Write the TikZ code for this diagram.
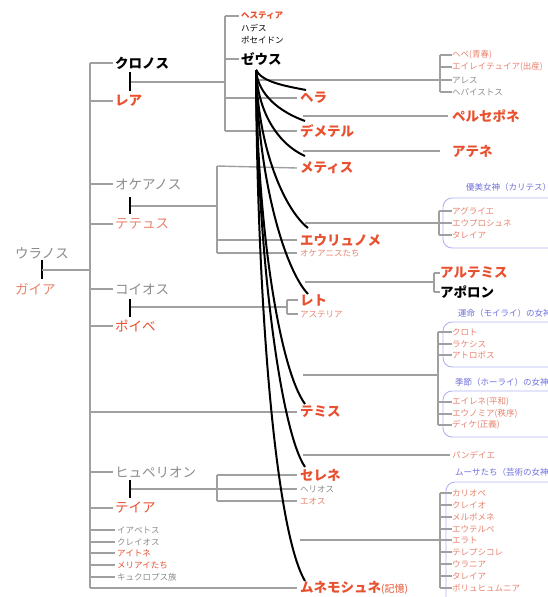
\documentclass[tikz,border=0pt]{standalone}
\usepackage{fontspec}
\setmainfont{Noto Sans CJK JP}
\definecolor{rd}{HTML}{E8502F}
\definecolor{lrd}{HTML}{E8826E}
\definecolor{gtx}{HTML}{8C8C8C}
\definecolor{ln}{HTML}{A0A0A0}
\definecolor{blt}{HTML}{7070DD}
\definecolor{bxc}{HTML}{B4B4F2}
\tikzset{
  nm/.style={anchor=west,inner sep=0pt,font=\fontsize{13.5}{13.5}\selectfont},
  bnm/.style={nm,font=\bfseries\fontsize{13.5}{13.5}\selectfont},
  sm/.style={anchor=west,inner sep=0pt,font=\fontsize{8.5}{9}\selectfont},
  bsm/.style={sm,font=\bfseries\fontsize{8.5}{9}\selectfont},
  gl/.style={draw=ln,line width=1.4pt},
  bar/.style={draw=black,line width=2.6pt},
  zc/.style={draw=black,line width=2pt},
  grp/.style={draw=bxc,line width=0.9pt,rounded corners=9pt},
  lab/.style={anchor=west,inner sep=0pt,text=blt,font=\fontsize{8.5}{9}\selectfont}
}
\begin{document}
\begin{tikzpicture}[x=1pt,y=-1pt]
\useasboundingbox (0,0) rectangle (547,597);
\fill[white] (0,0) rectangle (547,597);
% group boxes
\draw[grp] (443,198) rectangle (570,248);
\draw[grp] (443,322) rectangle (570,367);
\draw[grp] (443,391) rectangle (570,437);
\draw[grp] (446,482) rectangle (570,620);
\node[lab] (lc) at (466,187) {優美女神（カリテス）};
\node[lab] (lm) at (458,313) {運命（モイライ）の女神};
\node[lab] (lh) at (455,382) {季節（ホーライ）の女神};
\node[lab] (lmu) at (455,472) {ムーサたち（芸術の女神）};
% Uranos / Gaia
\node[nm,text=gtx] (uranos) at (15,253) {ウラノス};
\node[nm,text=lrd] (gaia) at (15,289) {ガイア};
\coordinate (ub1) at (42,260); \coordinate (ub2) at (42,279);
\coordinate (um) at (42,270); \coordinate (tr) at (90,270);
\coordinate (trtop) at (90,63); \coordinate (trbot) at (90,588);
\draw[bar] (ub1) -- (ub2);
\draw[gl] (um) -- (tr);
\draw[gl] (trtop) -- (trbot);
% Titans
\node[bnm] (kronos) at (115,63) {クロノス};
\node[bnm,text=rd] (rhea) at (115,101) {レア};
\node[nm,text=gtx] (okeanos) at (115,184) {オケアノス};
\node[nm,text=lrd] (tethys) at (115,224) {テテュス};
\node[nm,text=gtx] (koios) at (115,289) {コイオス};
\node[nm,text=rd] (phoibe) at (115,326) {ポイベ};
\node[nm,text=gtx] (hyperion) at (115,472) {ヒュペリオン};
\node[nm,text=rd] (theia) at (115,508) {テイア};
\node[sm,text=gtx] (iapetos) at (117,530) {イアペトス};
\node[sm,text=gtx] (kreios) at (117,542) {クレイオス};
\node[sm,text=rd] (aitne) at (117,553) {アイトネ};
\node[sm,text=rd] (meliai) at (117,565) {メリアイたち};
\node[sm,text=gtx] (kyklopes) at (117,577) {キュクロプス族};
\foreach \n/\y in {kronos/63,rhea/101,okeanos/184,tethys/224,koios/289,phoibe/326,hyperion/472,theia/508,iapetos/530,kreios/542,aitne/553,meliai/565,kyklopes/577}
  \draw[gl] (90,\y) -- ([xshift=-2pt]\n.west);
% couple bars
\draw[bar] (130,72) -- (130,91);
\draw[bar] (130,197) -- (130,214);
\draw[bar] (130,299) -- (130,317);
\draw[bar] (130,480) -- (130,498);
% Kronos children
\node[bsm,text=rd] (hestia) at (241,16) {ヘスティア};
\node[sm] (hades) at (241,28) {ハデス};
\node[sm] (poseidon) at (241,40) {ポセイドン};
\node[bnm] (zeus) at (241,59) {ゼウス};
\node[bnm,text=rd] (hera) at (300,98) {ヘラ};
\node[bnm,text=rd] (demeter) at (300,131) {デメテル};
\draw[gl] (131,82) -- (225,82);
\draw[gl] (225,16) -- (225,131);
\draw[gl] (225,16) -- ([xshift=-2pt]hestia.west);
\draw[gl] (225,59) -- ([xshift=-2pt]zeus.west);
\draw[gl] (225,98) -- ([xshift=-3pt]hera.west);
\draw[gl] (225,131) -- ([xshift=-3pt]demeter.west);
% Okeanos children
\node[bnm,text=rd] (metis) at (300,168) {メティス};
\node[bnm,text=rd] (eurynome) at (300,240) {エウリュノメ};
\node[sm,text=lrd] (okeanides) at (300,253) {オケアニスたち};
\draw[gl] (131,206) -- (217,206);
\draw[gl] (217,166) -- (217,253);
\draw[gl] (217,166) -- ([xshift=-3pt]metis.west);
\draw[gl] (217,240) -- ([xshift=-3pt]eurynome.west);
\draw[gl] (217,253) -- ([xshift=-3pt]okeanides.west);
% Koios children
\node[bnm,text=rd] (leto) at (300,300) {レト};
\node[sm,text=lrd] (asteria) at (300,314) {アステリア};
\draw[gl] (131,307) -- (287,307);
\draw[gl] (287,300) -- (287,314);
\draw[gl] (287,300) -- ([xshift=-2pt]leto.west);
\draw[gl] (287,314) -- ([xshift=-2pt]asteria.west);
% Themis
\node[bnm,text=rd] (themis) at (300,412) {テミス};
\draw[gl] (90,412) -- ([xshift=-3pt]themis.west);
% Hyperion children
\node[bnm,text=rd] (selene) at (300,475) {セレネ};
\node[sm,text=gtx] (helios) at (300,489) {ヘリオス};
\node[sm,text=lrd] (eos) at (300,501) {エオス};
\draw[gl] (131,489) -- (217,489);
\draw[gl] (217,475) -- (217,501);
\draw[gl] (217,475) -- ([xshift=-3pt]selene.west);
\draw[gl] (217,489) -- ([xshift=-3pt]helios.west);
\draw[gl] (217,501) -- ([xshift=-3pt]eos.west);
% Mnemosyne
\node[bnm,text=rd] (mnemo) at (300,588) {ムネモシュネ{\mdseries\fontsize{10}{10}\selectfont (記憶)}};
\draw[gl] (trbot) -- ([xshift=-3pt]mnemo.west);
% Zeus children lines
\coordinate (z) at (256,70);
% Hera
\foreach \n/\t/\c/\y in {hb/ヘベ(青春)/lrd/55,ei/エイレイテュイア(出産)/lrd/67,ar/アレス/gtx/80,hp/ヘパイストス/gtx/92}
  {\node[sm,text=\c] (\n) at (452,\y) {\t}; \draw[gl] (440,\y) -- (\n.west);}
\draw[gl] (440,55) -- (440,92);
\draw[gl] (258,80) -- (440,80);
% Persephone
\node[bnm,text=rd] (perse) at (452,116) {ペルセポネ};
\draw[gl] (303,116) -- ([xshift=-4pt]perse.west);
% Athena
\node[bnm,text=rd] (athena) at (452,151) {アテネ};
\draw[gl] (303,151) -- ([xshift=-12pt]athena.west);
% Charites
\foreach \n/\t/\y in {ag/アグライエ/211,eu/エウプロシュネ/223,th/タレイア/235}
  {\node[sm,text=lrd] (\n) at (452,\y) {\t}; \draw[gl] (439,\y) -- (\n.west);}
\draw[gl] (439,211) -- (439,235);
\draw[gl] (305,223) -- (439,223);
% Artemis Apollon
\node[bnm,text=rd] (artemis) at (440,273) {アルテミス};
\node[bnm] (apollon) at (440,292) {アポロン};
\draw[gl] (305,282) -- (434,282);
\draw[gl] (434,273) -- (434,292);
\draw[gl] (434,273) -- (artemis.west);
\draw[gl] (434,292) -- (apollon.west);
% Moirai Horai
\foreach \n/\t/\y in {kl/クロト/332,la/ラケシス/344,at/アトロポス/355,ei2/エイレネ(平和)/402,eun/エウノミア(秩序)/414,di/ディケ(正義)/425}
  {\node[sm,text=lrd] (\n) at (452,\y) {\t}; \draw[gl] (438,\y) -- (\n.west);}
\draw[gl] (438,332) -- (438,425);
\draw[gl] (303,375) -- (438,375);
% Pandeia
\node[sm,text=lrd] (pandeia) at (452,455) {パンデイエ};
\draw[gl] (303,455) -- ([xshift=-2pt]pandeia.west);
% Muses
\foreach \n/\t/\y in {m1/カリオペ/493,m2/クレイオ/505,m3/メルポメネ/517,m4/エウテルペ/529,m5/エラト/540,m6/テレプシコレ/552,m7/ウラニア/564,m8/タレイア/576,m9/ポリュヒュムニア/588}
  {\node[sm,text=lrd] (\n) at (452,\y) {\t}; \draw[gl] (440,\y) -- (\n.west);}
\draw[gl] (440,493) -- (440,588);
\draw[gl] (300,540) -- (440,540);
% Zeus curves
\draw[zc] (z) .. controls (262,82) and (285,86) .. (306,90);
\draw[zc] (z) .. controls (258,95) and (280,112) .. (305,121);
\draw[zc] (z) .. controls (258,115) and (280,145) .. (305,156);
\draw[zc] (z) .. controls (258,150) and (285,210) .. (308,228);
\draw[zc] (z) .. controls (258,180) and (285,270) .. (308,294);
\draw[zc] (z) .. controls (257,230) and (280,370) .. (305,404);
\draw[zc] (z) .. controls (257,250) and (280,430) .. (305,467);
\draw[zc] (z) .. controls (257,300) and (275,530) .. (305,581);
\end{tikzpicture}
\end{document}
